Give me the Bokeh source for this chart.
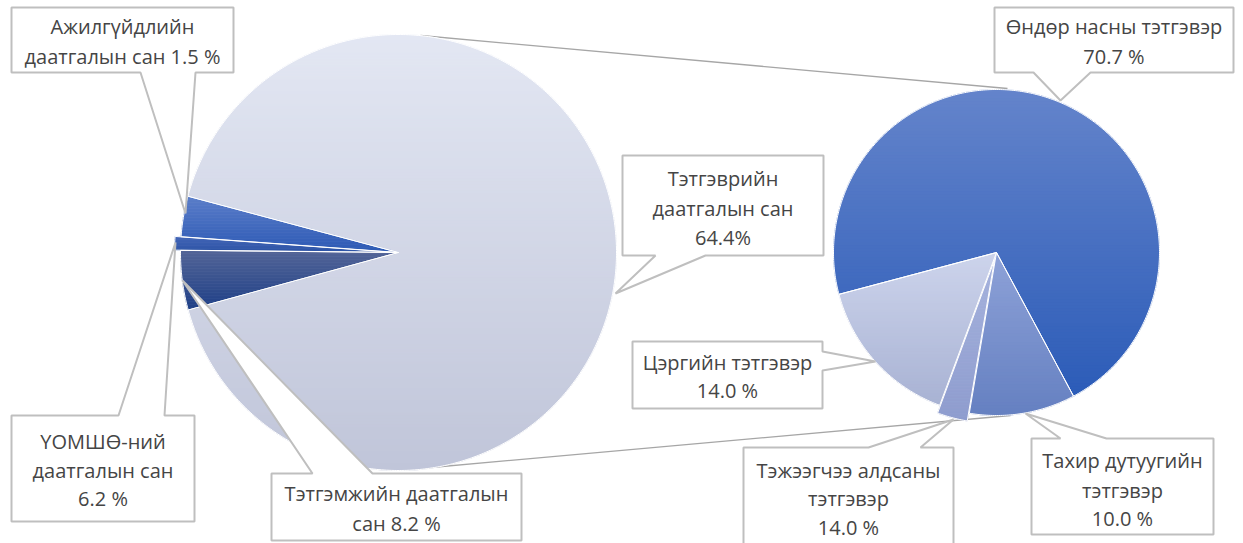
import numpy as np
from bokeh.plotting import figure
from bokeh.models import Range1d
from bokeh.embed import file_html
from bokeh.resources import INLINE
from bokeh.core.properties import value

# ---------------- data ----------------
main_names = ["Тэтгэврийн даатгалын сан", "Ажилгүйдлийн даатгалын сан",
              "ҮОМШӨ-ний даатгалын сан", "Тэтгэмжийн даатгалын сан"]
main_pct = ["64.4%", "1.5 %", "6.2 %", "8.2 %"]
main_share = [91.5, 3.0, 1.0, 4.4]          # slice sizes as drawn

sub_names = ["Өндөр насны тэтгэвэр", "Цэргийн тэтгэвэр",
             "Тэжээгчээ алдсаны тэтгэвэр", "Тахир дутуугийн тэтгэвэр"]
sub_pct = ["70.7 %", "14.0 %", "14.0 %", "10.0 %"]
sub_share = [71.3, 15.2, 3.0, 10.5]

# ---------------- style / layout ----------------
W, H = 1243, 543
FONT = "Open Sans"
FS = 20
TXT = "#454545"
BOX_LINE = "#BFBFBF"

main_center, main_r, main_start = (398, 252), 218, 195.3
sub_center, sub_r, sub_start = (996, 252), 163, -61.8
main_explode = [0, 0, 6, 0]
sub_explode = [0, 0, 8, 0]
main_grad = [("#E3E7F3", "#C0C5D9"), ("#5B7EC9", "#2C59B4"),
             ("#4366B8", "#2C52A4"), ("#536597", "#1E3F87")]
sub_grad = [("#6484CB", "#2C5CB8"), ("#CDD4EC", "#A8B2D3"),
            ("#A6B3DD", "#8E9CCE"), ("#8EA2D8", "#6580C1")]

# label boxes: (x0, y0, x1, y1, side, base_a, base_b, apex_x, apex_y, line_ys, words_per_line)
main_boxes = [
    (622, 155, 823, 255, "bottom", 655, 705, 615, 293, [178, 208, 237], [1, 2, 1]),
    (11, 7, 233, 72, "bottom", 140, 195, 185, 213, [26, 56], [1, 4]),
    (11, 415, 194, 521, "top", 118, 164, 175, 242, [441, 470, 498], [1, 2, 2]),
    (271, 473, 521, 540, "top", 312, 372, 182, 280, [493, 523], [2, 3]),
]
sub_boxes = [
    (994, 7, 1233, 72, "bottom", 1033, 1090, 1060, 100, [26, 56], [3, 2]),
    (632, 341, 822, 408, "right", 351, 370, 875, 361, [362, 390], [2, 2]),
    (743, 447, 953, 560, "top", 868, 920, 953, 419, [470, 498, 527], [2, 1, 2]),
    (1031, 438, 1213, 534, "top", 1060, 1106, 1025, 413, [460, 490, 518], [2, 1, 2]),
]

# ---------------- helpers ----------------
def hex2rgb(h):
    h = h.lstrip("#")
    return np.array([int(h[i:i + 2], 16) for i in (0, 2, 4)], dtype=float)

def lerp(c0, c1, t):
    c = hex2rgb(c0) * (1 - t) + hex2rgb(c1) * t
    return "#%02x%02x%02x" % tuple(int(round(v)) for v in c)

def sector(cx, cy, r, a0, a1, off):
    mid = np.radians((a0 + a1) / 2)
    cx, cy = cx + off * np.cos(mid), cy - off * np.sin(mid)
    n = max(6, int(abs(a1 - a0) * 1.5))
    a = np.radians(np.linspace(a0, a1, n))
    xs = [cx] + list(cx + r * np.cos(a))
    ys = [cy] + list(cy - r * np.sin(a))
    return list(zip(xs, ys))

def clip(poly, yc, keep_greater):
    out = []
    n = len(poly)
    for i in range(n):
        P, Q = poly[i], poly[(i + 1) % n]
        inP = P[1] >= yc if keep_greater else P[1] <= yc
        inQ = Q[1] >= yc if keep_greater else Q[1] <= yc
        if inP:
            out.append(P)
        if inP != inQ:
            t = (yc - P[1]) / (Q[1] - P[1])
            out.append((P[0] + t * (Q[0] - P[0]), yc))
    return out

band_xs, band_ys, band_c = [], [], []
edge_xs, edge_ys = [], []

def draw_pie(center, r, start, shares, explode, grads):
    tot = float(sum(shares))
    a = start
    for s, off, (c0, c1) in zip(shares, explode, grads):
        span = 360.0 * s / tot
        poly = sector(center[0], center[1], r, a, a + span, off)
        ys = [q[1] for q in poly]
        y0, y1 = min(ys), max(ys)
        step = 3.0
        y = y0
        while y < y1:
            part = clip(clip(poly, y, True), min(y + step + 0.4, y1), False)
            if len(part) >= 3:
                t = (y + step / 2 - y0) / max(y1 - y0, 1e-6)
                col = lerp(c0, c1, min(max(t, 0), 1))
                band_xs.append([q[0] for q in part])
                band_ys.append([q[1] for q in part])
                band_c.append(col)
            y += step
        edge_xs.append([q[0] for q in poly])
        edge_ys.append([q[1] for q in poly])
        a += span

# ---------------- figure ----------------
p = figure(width=W, height=H, x_range=Range1d(0, W), y_range=Range1d(H, 0),
           x_axis_type=None, y_axis_type=None, toolbar_location=None,
           output_backend="svg", min_border=0)
p.outline_line_color = None
p.grid.visible = False
p.background_fill_color = "white"
p.border_fill_color = "white"

# pie-of-pie connector lines
p.segment(x0=[420, 420], y0=[35, 468], x1=[1007, 1010], y1=[88, 415],
          line_color="#A6A6A6", line_width=1.3)

draw_pie(main_center, main_r, main_start, main_share, main_explode, main_grad)
draw_pie(sub_center, sub_r, sub_start, sub_share, sub_explode, sub_grad)
p.patches(band_xs, band_ys, fill_color=band_c, line_color=band_c, line_width=0.6)
p.patches(edge_xs, edge_ys, fill_color=None, line_color="white", line_width=1.0)

# callout label boxes
def callout(b):
    x0, y0, x1, y1, side, ba, bb, ax, ay = b[:9]
    if side == "bottom":
        pts = [(x0, y0), (x1, y0), (x1, y1), (bb, y1), (ax, ay), (ba, y1), (x0, y1)]
    elif side == "top":
        pts = [(x0, y0), (ba, y0), (ax, ay), (bb, y0), (x1, y0), (x1, y1), (x0, y1)]
    else:  # right
        pts = [(x0, y0), (x1, y0), (x1, ba), (ax, ay), (x1, bb), (x1, y1), (x0, y1)]
    return [q[0] for q in pts], [q[1] for q in pts]

bx, by = [], []
tx, ty, tt = [], [], []
for boxes, names, pcts in ((main_boxes, main_names, main_pct), (sub_boxes, sub_names, sub_pct)):
    for b, nm, pc in zip(boxes, names, pcts):
        xs, ys = callout(b)
        bx.append(xs)
        by.append(ys)
        words = (nm + " " + pc).split(" ")
        k = 0
        for ly, cnt in zip(b[9], b[10]):
            tx.append((b[0] + b[2]) / 2)
            ty.append(ly)
            tt.append(" ".join(words[k:k + cnt]))
            k += cnt

p.patches(bx, by, fill_color="white", line_color=BOX_LINE, line_width=2)
p.text(x=tx, y=ty, text=tt, text_align="center", text_baseline="middle",
       text_font=value(FONT), text_font_size=f"{FS}px", text_color=TXT)

open("out.html", "w").write(file_html(p, INLINE))
